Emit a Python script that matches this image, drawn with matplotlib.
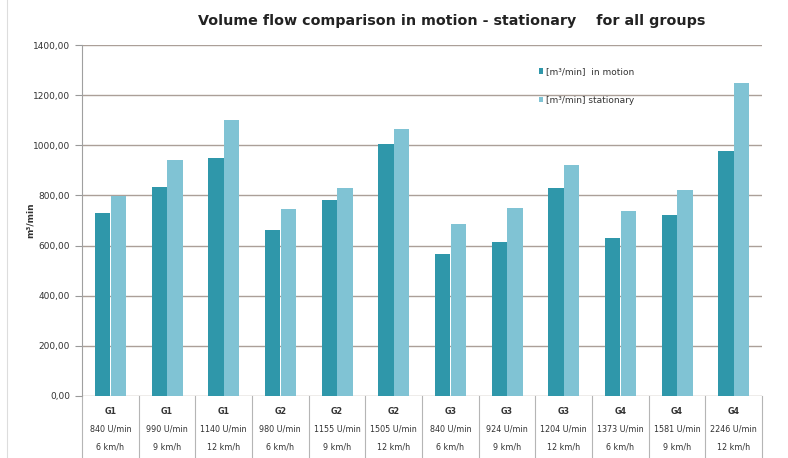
import matplotlib.pyplot as plt
import numpy as np
from matplotlib.ticker import FuncFormatter

# data
groups = ['G1', 'G1', 'G1', 'G2', 'G2', 'G2', 'G3', 'G3', 'G3', 'G4', 'G4', 'G4']
rpm = ['840 U/min', '990 U/min', '1140 U/min', '980 U/min', '1155 U/min', '1505 U/min',
       '840 U/min', '924 U/min', '1204 U/min', '1373 U/min', '1581 U/min', '2246 U/min']
speed = ['6 km/h', '9 km/h', '12 km/h'] * 4
in_motion = [731, 835, 951, 662, 781, 1004, 566, 615, 831, 629, 722, 978]
stationary = [799, 941, 1102, 746, 828, 1065, 686, 749, 920, 739, 820, 1248]

c_motion = '#2f97aa'
c_stat = '#80c3d4'
grid_c = '#ab9f98'
txt_c = '#333333'

fig = plt.figure(figsize=(7.88, 4.58), dpi=100)
ax = fig.add_axes([0.104, 0.1354, 0.863, 0.7663])

x = np.arange(len(groups))
w = 0.27
ax.bar(x - w / 2, in_motion, w, color=c_motion, label='[m³/min]  in motion', zorder=3)
ax.bar(x + w / 2 + 0.005, stationary, w, color=c_stat, label='[m³/min] stationary', zorder=3)

ax.set_xlim(-0.5, len(groups) - 0.5)
ax.set_ylim(0, 1400)
ax.set_yticks(np.arange(0, 1401, 200))
ax.yaxis.set_major_formatter(FuncFormatter(lambda v, p: f'{v:.2f}'.replace('.', ',')))
ax.tick_params(axis='y', labelsize=6.5, colors='#999999', labelcolor=txt_c, length=5, width=0.8)
ax.set_xticks([])
ax.grid(axis='y', color=grid_c, linewidth=1.0, zorder=0)
for s in ['top', 'right', 'bottom']:
    ax.spines[s].set_visible(False)
ax.spines['left'].set_color('#a0a0a0')

fig.text(30 / 788, 0.52, 'm³/min', rotation=90, ha='center', va='center',
         fontsize=6.5, fontweight='bold', color=txt_c)

fig.text(0.573, 0.955, 'Volume flow comparison in motion - stationary    for all groups',
         ha='center', va='center', fontsize=10.3, fontweight='bold', color='#222222')

leg = ax.legend(loc='upper left', bbox_to_anchor=(0.66, 0.96), frameon=False,
                fontsize=6.5, handlelength=0.5, handleheight=0.5, labelspacing=2.2,
                handletextpad=0.3)
for t in leg.get_texts():
    t.set_color(txt_c)

# category table under the axis
trans = ax.get_xaxis_transform()
rows = [(groups, -0.045), (rpm, -0.094), (speed, -0.145)]
for labels, yy in rows:
    for i, lab in enumerate(labels):
        t = ax.text(i, yy, lab, transform=trans, ha='center', va='center',
                    fontsize=5.8, color=txt_c, clip_on=False)
        if labels is groups:
            t.set_fontweight('bold')
for i in range(len(groups) + 1):
    ax.plot([i - 0.5, i - 0.5], [0, -0.18], transform=trans, color='#b5b5b5',
            linewidth=0.8, clip_on=False)

# faint outer chart border on the left
fig.add_artist(plt.Line2D([7 / 788, 7 / 788], [0, 1], color='#dddddd', linewidth=0.8))

fig.savefig('out.png', dpi=100)
